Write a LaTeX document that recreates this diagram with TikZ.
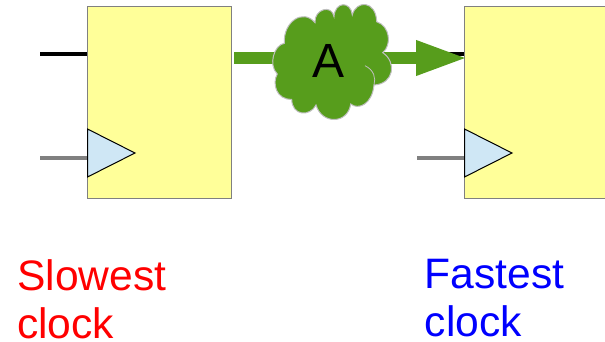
\documentclass[tikz,border=0pt]{standalone}
\usepackage{fontspec}
\setmainfont{Liberation Sans}
\usetikzlibrary{arrows.meta}
\definecolor{boxyellow}{HTML}{FFFF99}
\definecolor{clkblue}{HTML}{CFE7F5}
\definecolor{pathgreen}{HTML}{579D1C}
\tikzset{
  regbox/.style={draw=gray,line width=1pt,fill=boxyellow,anchor=north west,inner sep=0pt,outer sep=0pt,
    minimum width=144pt,minimum height=191pt},
  datawire/.style={line width=3.8pt,black},
  clkwire/.style={line width=4pt,gray},
  clkmark/.style={draw=black,line width=1pt,fill=clkblue,line join=miter},
  pathwire/.style={line width=12pt,pathgreen,shorten >=-4pt,-{Triangle[length=52pt,width=32pt]}},
  pathcloud/.style={fill=pathgreen,draw=lightgray,line width=1pt},
  cloudtext/.style={inner sep=0pt,font=\fontsize{48}{48}\selectfont},
  caption/.style={anchor=north west,align=left,inner sep=0pt,font=\fontsize{42.6}{48}\selectfont}
}
\begin{document}
\begin{tikzpicture}[x=1pt,y=-1pt]
  \useasboundingbox[clip] (0,0) rectangle (605,342);
  \node[regbox] (slowreg) at (87,7) {};
  \node[regbox,minimum width=160pt] (fastreg) at (464,7) {};
  \coordinate (slowdata) at (40,54);
  \coordinate (slowclk) at (40,158);
  \coordinate (fastdata) at (417,54);
  \coordinate (fastclk) at (417,158);
  \coordinate (pathstart) at (234,58);
  \draw[datawire] (slowdata) -- (slowdata -| slowreg.west);
  \draw[datawire] (fastdata) -- (fastdata -| fastreg.west);
  \draw[clkwire] (slowclk) -- (slowclk -| slowreg.west);
  \draw[clkwire] (fastclk) -- (fastclk -| fastreg.west);
  \draw[clkmark] (87.5,129) -- (135,153) -- (87.5,177) -- cycle;
  \draw[clkmark] (464.5,129) -- (512,153) -- (464.5,177) -- cycle;
  \draw[pathwire] (pathstart) -- (pathstart -| fastreg.west);
  \draw[pathcloud]
  (284.3,43.3) .. controls (283,22) and (303,8) ..
  (315,22.7) .. controls (314,9) and (332,4) ..
  (334,16.7) .. controls (335,1) and (351,1) ..
  (352.3,15) .. controls (356,0) and (376,0) ..
  (376.7,21.7) .. controls (390,26) and (392,45) ..
  (382.7,52.7) .. controls (397,62) and (394,84) ..
  (374,85) .. controls (372,105) and (358,110) ..
  (350.7,104) .. controls (348,124) and (322,125) ..
  (316,105) .. controls (310,117) and (292,116) ..
  (291.7,99.3) .. controls (276,100) and (272,83) ..
  (277.3,74) .. controls (268,65) and (274,45) ..
  cycle;
  \draw[draw=lightgray,line width=.8pt] (365,65.7) .. controls (374,70) and (376,78) .. (374,85);
  \node[cloudtext] (logic) at (329,61) {A};
  \node[caption,text=red] (slowtext) at (17,259) {Slowest\\clock};
  \node[caption,text=blue] (fasttext) at (424.5,259) {Fastest\\clock};
\end{tikzpicture}
\end{document}
